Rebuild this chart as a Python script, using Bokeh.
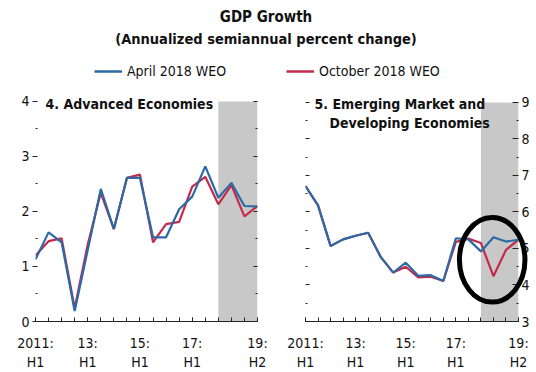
from bokeh.plotting import figure
from bokeh.models import (Range1d, LinearAxis, FixedTicker, BoxAnnotation, Label, Legend,
                          LegendItem)
from bokeh.layouts import column, row
from bokeh.embed import file_html
from bokeh.resources import INLINE

# ---------------- data ----------------
periods = ["2011H1", "2011H2", "2012H1", "2012H2", "2013H1", "2013H2", "2014H1", "2014H2",
           "2015H1", "2015H2", "2016H1", "2016H2", "2017H1", "2017H2", "2018H1", "2018H2",
           "2019H1", "2019H2"]
x_idx = list(range(len(periods)))
tick_positions = [0, 4, 8, 12, 17]
tick_labels = ["2011:\nH1", "13:\nH1", "15:\nH1", "17:\nH1", "19:\nH2"]
projection_start = 14  # 2018H1 (shaded)
projection_end = 17

adv_april = [1.13, 1.62, 1.44, 0.19, 1.30, 2.41, 1.68, 2.61, 2.61, 1.53, 1.53, 2.04,
             2.27, 2.82, 2.25, 2.52, 2.10, 2.09]
adv_october = [1.20, 1.46, 1.51, 0.24, 1.40, 2.34, 1.68, 2.61, 2.67, 1.44, 1.77, 1.81,
               2.45, 2.63, 2.13, 2.48, 1.91, 2.10]
emde_april = [6.71, 6.18, 5.07, 5.25, 5.35, 5.43, 4.77, 4.34, 4.61, 4.25, 4.27, 4.11,
              5.28, 5.25, 4.92, 5.31, 5.19, 5.24]
emde_october = [6.71, 6.18, 5.07, 5.25, 5.35, 5.43, 4.77, 4.34, 4.50, 4.21, 4.23, 4.11,
                5.18, 5.27, 5.15, 4.24, 4.96, 5.24]

adv_major = [0, 1, 2, 3, 4]
adv_minor = [0.5, 1.5, 2.5, 3.5]
em_major = [3, 4, 5, 6, 7, 8, 9]
em_minor = [3.5, 4.5, 5.5, 6.5, 7.5, 8.5]

# highlight ellipse (annotation) in data units of the right panel
hl_x, hl_y, hl_w, hl_h = 14.9, 4.69, 5.23, 2.32

BLUE = "#2a6aa5"
RED = "#c62a4b"
GRAY = "#c8c8c8"
FONT = "DejaVu Sans Condensed"
INK = "#111111"

# ---------------- title / legend strip ----------------
top = figure(width=536, height=88, x_range=Range1d(0, 536), y_range=Range1d(0, 88),
             output_backend="svg", toolbar_location=None, min_border=0, title=None,
             x_axis_location=None, y_axis_location=None)
top.outline_line_color = None
top.xgrid.visible = False
top.ygrid.visible = False
top.add_layout(Label(x=265.5, y=71.3, text="GDP Growth", text_align="center",
                     text_baseline="alphabetic", text_font=FONT, text_font_size="15px",
                     text_font_style="bold", text_color=INK))
top.add_layout(Label(x=265.5, y=49.5, text="(Annualized semiannual percent change)",
                     text_align="center", text_baseline="alphabetic", text_font=FONT,
                     text_font_size="14.5px", text_font_style="bold", text_color=INK))
# legend swatches: hidden copies of the series (only their legend glyphs show)
r_b = top.line(x_idx, adv_april, line_color=BLUE, line_width=2.5, visible=False)
r_r = top.line(x_idx, adv_october, line_color=RED, line_width=2.5, visible=False)
for rend, lab, loc in [(r_b, "April 2018 WEO", (94, 9)), (r_r, "October 2018 WEO", (286, 9))]:
    leg = Legend(items=[LegendItem(label=lab, renderers=[rend])], location=loc,
                 orientation="horizontal", padding=0, margin=0, border_line_color=None,
                 background_fill_alpha=0, glyph_width=28, glyph_height=16, label_height=16,
                 label_standoff=5, label_text_font=FONT, label_text_font_size="14px",
                 label_text_color=INK, click_policy="none")
    top.add_layout(leg)


def bottom_axis():
    ax = LinearAxis(ticker=FixedTicker(ticks=tick_positions, minor_ticks=x_idx),
                    major_label_overrides={t: l for t, l in zip(tick_positions, tick_labels)})
    ax.major_tick_in = 4
    ax.major_tick_out = 0
    ax.minor_tick_in = 4
    ax.minor_tick_out = 0
    ax.axis_line_color = "#222222"
    ax.major_tick_line_color = "#222222"
    ax.minor_tick_line_color = "#222222"
    ax.major_label_standoff = 13
    ax.major_label_text_font = FONT
    ax.major_label_text_font_size = "14px"
    ax.major_label_text_color = INK
    return ax


def y_axis(ticks, minor, labels, tick_in, tick_out):
    ax = LinearAxis(ticker=FixedTicker(ticks=ticks, minor_ticks=minor))
    ax.axis_line_color = None
    ax.major_tick_in = tick_in
    ax.major_tick_out = tick_out
    ax.minor_tick_in = 2
    ax.minor_tick_out = 0
    ax.major_tick_line_color = "#222222"
    ax.minor_tick_line_color = "#222222"
    if labels:
        ax.major_label_standoff = 3
        ax.major_label_text_font = FONT
        ax.major_label_text_font_size = "14px"
        ax.major_label_text_color = INK
    else:
        ax.major_label_text_font_size = "0px"
        ax.major_label_text_color = None
        ax.major_label_standoff = 0
    return ax


def panel(width, bl, br, y0, y1, y_top, april, october):
    # frame extends a little above the top tick so the panel titles are not clipped
    p = figure(width=width, height=284, x_range=Range1d(0, 17), y_range=Range1d(y0, y_top),
               output_backend="svg", toolbar_location=None, title=None, min_border_left=bl,
               min_border_right=br, min_border_top=3, min_border_bottom=50,
               x_axis_location=None, y_axis_location=None)
    p.outline_line_color = None
    p.xgrid.visible = False
    p.ygrid.visible = False
    p.add_layout(BoxAnnotation(left=projection_start, right=projection_end, bottom=y0, top=y1,
                               fill_color=GRAY, fill_alpha=1, line_color=None, level="underlay"))
    p.line(x_idx, october, line_color=RED, line_width=2.2)
    p.line(x_idx, april, line_color=BLUE, line_width=2.2)
    p.add_layout(bottom_axis(), "below")
    return p


# ---------------- left panel ----------------
p1 = panel(270, 35, 13, 0, 4, 4.181, adv_april, adv_october)
p1.add_layout(y_axis(adv_major, adv_minor, True, 2, 3), "left")
p1.add_layout(y_axis(adv_major, adv_minor, False, 4, 0), "right")
p1.add_layout(Label(x=0.77, y=3.95, text="4. Advanced Economies", text_font=FONT,
                    text_font_size="14px", text_font_style="bold", text_baseline="alphabetic",
                    text_color=INK))

# ---------------- right panel ----------------
p2 = panel(266, 35, 18, 3, 9, 9.3, emde_april, emde_october)
p2.add_layout(y_axis(em_major, em_minor, False, 4, 0), "left")
p2.add_layout(y_axis(em_major, em_minor, True, 6, 0), "right")
p2.add_layout(Label(x=0.72, y=8.97, text="5. Emerging Market and", text_font=FONT,
                    text_font_size="14px", text_font_style="bold", text_baseline="alphabetic",
                    text_color=INK))
p2.add_layout(Label(x=1.92, y=8.45, text="Developing Economies", text_font=FONT,
                    text_font_size="14px", text_font_style="bold", text_baseline="alphabetic",
                    text_color=INK))
p2.ellipse(x=[hl_x], y=[hl_y], width=[hl_w], height=[hl_h], fill_color=None,
           line_color="black", line_width=5, level="overlay")

layout = column(top, row(p1, p2))
open("out.html", "w").write(file_html(layout, INLINE))
